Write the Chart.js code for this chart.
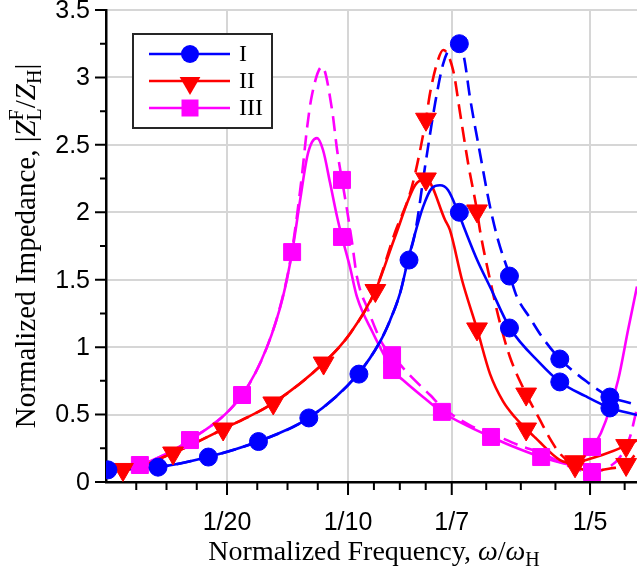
<!DOCTYPE html>
<html lang="en">
<head>
<meta charset="UTF-8" />
<title>Normalized Impedance vs Frequency</title>
<script src="https://cdn.jsdelivr.net/npm/chart.js"></script>
<style>
  html, body { margin: 0; padding: 0; background: #fff; }
  #wrap { width: 637px; height: 574px; }
</style>
</head>
<body>
<div id="wrap"><canvas id="myChart" width="637" height="574"></canvas></div>
<script>
// axis ticks
const xMajor = [0.05, 0.1, 1 / 7, 0.2];
const xMajorLabels = ['1/20', '1/10', '1/7', '1/5'];
const xMinor = [0.0125, 0.025, 0.0375, 0.0625, 0.075, 0.0875, 0.1107, 0.1214, 0.1321, 0.1571, 0.1714, 0.1857, 0.2143];
const yMajor = [0, 0.5, 1, 1.5, 2, 2.5, 3, 3.5];
const yMajorLabels = ['0', '0.5', '1', '1.5', '2', '2.5', '3', '3.5'];
const yMinor = [0.25, 0.75, 1.25, 1.75, 2.25, 2.75, 3.25];
const seriesNames = ['I', 'II', 'III'];

// series I (blue)
const freqI = [0.0008, 0.0215, 0.0421, 0.0628, 0.0838, 0.1041, 0.1132, 0.1174, 0.1215, 0.1248, 0.1269, 0.1310, 0.1347, 0.1380, 0.1413, 0.1455, 0.1483, 0.1535, 0.1587, 0.1669, 0.1793, 0.1876, 0.1979, 0.2083, 0.2194];
const solidI = [0.09, 0.11, 0.185, 0.30, 0.475, 0.80, 1.04, 1.20, 1.40, 1.646, 1.79, 2.04, 2.18, 2.20, 2.165, 2.00, 1.87, 1.64, 1.446, 1.142, 0.882, 0.742, 0.638, 0.549, 0.497];
const freqIdash = [0.0008, 0.0215, 0.0421, 0.0628, 0.0838, 0.1041, 0.1132, 0.1174, 0.1215, 0.1248, 0.1277, 0.1318, 0.1360, 0.1393, 0.1421, 0.1455, 0.1479, 0.1504, 0.1545, 0.1587, 0.1620, 0.1669, 0.1698, 0.1752, 0.1802, 0.1876, 0.1988, 0.2083, 0.2165, 0.2194];
const dashI = [0.09, 0.11, 0.185, 0.30, 0.475, 0.80, 1.04, 1.20, 1.40, 1.646, 1.846, 2.336, 2.81, 3.10, 3.22, 3.25, 3.15, 2.85, 2.44, 2.039, 1.794, 1.527, 1.372, 1.216, 1.075, 0.912, 0.742, 0.630, 0.586, 0.571];
const markFreqI = [0.0008, 0.0215, 0.0423, 0.0630, 0.0838, 0.1045, 0.1252, 0.1460, 0.1460, 0.1667, 0.1667, 0.1875, 0.1875, 0.2082, 0.2082];
const markI = [0.09, 0.11, 0.185, 0.30, 0.475, 0.80, 1.646, 2.00, 3.25, 1.142, 1.527, 0.742, 0.912, 0.549, 0.63];

// series II (red)
const freqII = [0.0004, 0.0070, 0.0277, 0.0484, 0.0691, 0.0899, 0.1008, 0.1113, 0.1194, 0.1277, 0.1322, 0.1401, 0.1421, 0.1471, 0.1533, 0.1587, 0.1640, 0.1690, 0.1736, 0.1773, 0.1876, 0.1938, 0.1959, 0.2050, 0.2149, 0.2194];
const solidII = [0.10, 0.093, 0.215, 0.393, 0.586, 0.882, 1.10, 1.42, 1.817, 2.2, 2.247, 1.943, 1.869, 1.498, 1.135, 0.80, 0.60, 0.48, 0.393, 0.33, 0.163, 0.14, 0.15, 0.20, 0.27, 0.31];
const freqIIdash = [0.0004, 0.0070, 0.0277, 0.0484, 0.0691, 0.0899, 0.1008, 0.1113, 0.1194, 0.1264, 0.1322, 0.1339, 0.1368, 0.1393, 0.1434, 0.1463, 0.1496, 0.1533, 0.1545, 0.1587, 0.1628, 0.1669, 0.1736, 0.1793, 0.1835, 0.1876, 0.1938, 0.2000, 0.2083, 0.2149, 0.2194];
const dashII = [0.10, 0.093, 0.215, 0.393, 0.586, 0.882, 1.10, 1.42, 1.85, 2.19, 2.69, 2.884, 3.107, 3.203, 3.055, 2.736, 2.365, 2.01, 1.869, 1.498, 1.179, 0.927, 0.652, 0.46, 0.32, 0.21, 0.12, 0.08, 0.10, 0.13, 0.22];
const markFreqII = [0.0070, 0.0277, 0.0484, 0.0691, 0.0899, 0.1113, 0.1322, 0.1322, 0.1533, 0.1533, 0.1736, 0.1736, 0.1938, 0.1938, 0.2149, 0.2149];
const markII = [0.093, 0.215, 0.393, 0.586, 0.882, 1.42, 2.247, 2.69, 1.135, 2.01, 0.393, 0.652, 0.15, 0.12, 0.27, 0.13];

// series III (magenta)
const freqIII = [0.0004, 0.0140, 0.0347, 0.0562, 0.0665, 0.0731, 0.0769, 0.0802, 0.0831, 0.0851, 0.0872, 0.0897, 0.0926, 0.0955, 0.0975, 0.1008, 0.1037, 0.1103, 0.1153, 0.1182, 0.1227, 0.1310, 0.1388, 0.1500, 0.1591, 0.1700, 0.1798, 0.1888, 0.1930, 0.2008, 0.2045, 0.2116, 0.2157, 0.2194];
const solidIII = [0.08, 0.126, 0.311, 0.645, 1.00, 1.372, 1.705, 2.09, 2.41, 2.52, 2.55, 2.46, 2.217, 1.965, 1.817, 1.594, 1.372, 1.105, 0.927, 0.83, 0.756, 0.63, 0.519, 0.41, 0.334, 0.25, 0.185, 0.14, 0.126, 0.26, 0.363, 0.756, 1.127, 1.45];
const freqIIIdash = [0.0004, 0.0140, 0.0347, 0.0562, 0.0665, 0.0731, 0.0769, 0.0810, 0.0831, 0.0851, 0.0893, 0.0934, 0.0955, 0.0975, 0.0996, 0.1017, 0.1037, 0.1083, 0.1145, 0.1182, 0.1256, 0.1339, 0.1388, 0.1504, 0.1591, 0.1710, 0.1798, 0.1930, 0.2008, 0.2070, 0.2124, 0.2165, 0.2194];
const dashIII = [0.08, 0.126, 0.311, 0.645, 1.00, 1.38, 1.72, 2.28, 2.63, 2.87, 3.08, 2.76, 2.46, 2.24, 2.017, 1.772, 1.52, 1.275, 1.016, 0.94, 0.79, 0.645, 0.556, 0.42, 0.36, 0.27, 0.215, 0.104, 0.074, 0.104, 0.185, 0.334, 0.55];
const markFreqIII = [0.0140, 0.0347, 0.0562, 0.0769, 0.0975, 0.0975, 0.1182, 0.1182, 0.1388, 0.1591, 0.1798, 0.2008, 0.2008];
const markIII = [0.126, 0.311, 0.645, 1.705, 1.817, 2.24, 0.83, 0.94, 0.52, 0.334, 0.185, 0.26, 0.074];

const BLUE = '#0000ff', RED = '#ff0000', MAG = '#ff00ff';

const pts = (xs, ys) => xs.map((x, i) => ({ x: x, y: ys[i] }));

function curve(xs, ys, color, dashed) {
  return {
    data: pts(xs, ys), showLine: true, borderColor: color, borderWidth: 2.6,
    borderDash: dashed ? [15, 8] : [], pointRadius: 0, pointHoverRadius: 0,
    fill: false, cubicInterpolationMode: 'monotone', order: 2
  };
}
function marks(xs, ys, color, style, r, rot) {
  return {
    data: pts(xs, ys), showLine: false, pointStyle: style, pointRadius: r,
    pointRotation: rot || 0, backgroundColor: color, borderColor: color,
    borderWidth: 1, order: 1
  };
}

// rich text (sub/superscripts) for the axis titles
function drawRich(ctx, parts, cx, cy, size) {
  const fam = '"Liberation Serif", "Times New Roman", serif';
  const font = p => (p.it ? 'italic ' : '') + (p.s ? Math.round(size * 0.7) : size) + 'px ' + fam;
  let total = 0;
  parts.forEach(p => { ctx.font = font(p); p.w = ctx.measureText(p.t).width; if (!p.keep) total += p.w; });
  let x = cx - total / 2;
  ctx.textAlign = 'left';
  ctx.textBaseline = 'alphabetic';
  parts.forEach(p => {
    ctx.font = font(p);
    ctx.fillText(p.t, x, cy + (p.dy || 0) * size);
    if (!p.keep) x += p.w;
  });
}

function marker(ctx, style, x, y, color) {
  ctx.fillStyle = color;
  ctx.beginPath();
  if (style === 'circle') {
    ctx.arc(x, y, 9, 0, Math.PI * 2);
  } else if (style === 'tri') {
    const r = 12;
    ctx.moveTo(x, y + r);
    ctx.lineTo(x - r * 0.866, y - r / 2);
    ctx.lineTo(x + r * 0.866, y - r / 2);
    ctx.closePath();
  } else {
    ctx.rect(x - 8.5, y - 8.5, 17, 17);
  }
  ctx.fill();
}

const decor = {
  id: 'decor',
  afterDraw(chart) {
    const ctx = chart.ctx;
    const xs = chart.scales.x, ys = chart.scales.y;
    const area = chart.chartArea;
    ctx.save();
    ctx.strokeStyle = '#000';
    ctx.lineWidth = 2;
    // tick marks
    ctx.beginPath();
    xMajor.forEach(v => { const px = xs.getPixelForValue(v); ctx.moveTo(px, area.bottom); ctx.lineTo(px, area.bottom + 13); });
    xMinor.forEach(v => { const px = xs.getPixelForValue(v); ctx.moveTo(px, area.bottom); ctx.lineTo(px, area.bottom + 8); });
    yMajor.forEach(v => { const py = ys.getPixelForValue(v); ctx.moveTo(area.left, py); ctx.lineTo(area.left - 11, py); });
    yMinor.forEach(v => { const py = ys.getPixelForValue(v); ctx.moveTo(area.left, py); ctx.lineTo(area.left - 6, py); });
    ctx.stroke();

    // tick labels
    ctx.fillStyle = '#000';
    ctx.font = '25px "Liberation Sans", Arial, sans-serif';
    ctx.textAlign = 'right';
    ctx.textBaseline = 'middle';
    yMajor.forEach((v, i) => ctx.fillText(yMajorLabels[i], area.left - 16, ys.getPixelForValue(v) + 1));
    ctx.textAlign = 'center';
    xMajor.forEach((v, i) => ctx.fillText(xMajorLabels[i], xs.getPixelForValue(v), 523));

    // axis titles
    drawRich(ctx, [
      { t: 'Normalized Frequency, ' },
      { t: '\u03c9', it: true },
      { t: '/' },
      { t: '\u03c9', it: true },
      { t: 'H', s: true, dy: 0.22 }
    ], 374, 560, 28);

    ctx.save();
    ctx.translate(35, 246);
    ctx.rotate(-Math.PI / 2);
    drawRich(ctx, [
      { t: 'Normalized Impedance, |' },
      { t: 'Z', it: true },
      { t: 'F', s: true, dy: -0.42, keep: true },
      { t: 'L', s: true, dy: 0.22 },
      { t: '/' },
      { t: 'Z', it: true },
      { t: 'H', s: true, dy: 0.22 },
      { t: '|' }
    ], 0, 0, 29);
    ctx.restore();

    // legend
    const lx = 133, ly = 34, lw = 139, lh = 94;
    ctx.fillStyle = '#fff';
    ctx.fillRect(lx, ly, lw, lh);
    ctx.strokeStyle = '#262626';
    ctx.lineWidth = 2;
    ctx.strokeRect(lx, ly, lw, lh);
    const rows = [
      { c: BLUE, s: 'circle', y: 54 },
      { c: RED, s: 'tri', y: 81 },
      { c: MAG, s: 'square', y: 108 }
    ];
    rows.forEach((r, i) => {
      ctx.strokeStyle = r.c;
      ctx.lineWidth = 2.6;
      ctx.beginPath();
      ctx.moveTo(149, r.y);
      ctx.lineTo(230, r.y);
      ctx.stroke();
      marker(ctx, r.s, 190, r.s === 'tri' ? r.y + 2 : r.y, r.c);
      ctx.fillStyle = '#000';
      ctx.font = '24px "Liberation Serif", "Times New Roman", serif';
      ctx.textAlign = 'left';
      ctx.textBaseline = 'middle';
      ctx.fillText(seriesNames[i], 239, r.y + 1);
    });
    ctx.restore();
  }
};

const ctx = document.getElementById('myChart').getContext('2d');
new Chart(ctx, {
  type: 'scatter',
  data: {
    datasets: [
      curve(freqI, solidI, BLUE, false),
      curve(freqIdash, dashI, BLUE, true),
      curve(freqII, solidII, RED, false),
      curve(freqIIdash, dashII, RED, true),
      curve(freqIII, solidIII, MAG, false),
      curve(freqIIIdash, dashIII, MAG, true),
      marks(markFreqI, markI, BLUE, 'circle', 9),
      marks(markFreqII, markII, RED, 'triangle', 12, 180),
      marks(markFreqIII, markIII, MAG, 'rect', 12)
    ]
  },
  options: {
    responsive: false,
    animation: false,
    events: [],
    layout: { autoPadding: false, padding: { top: 10, right: 0, left: 0, bottom: 0 } },
    plugins: { legend: { display: false }, tooltip: { enabled: false } },
    scales: {
      x: {
        type: 'linear', min: 0, max: 0.2194,
        grid: { color: '#d6d6d6', lineWidth: 2, drawTicks: false },
        border: { color: '#000', width: 2.5 },
        ticks: { display: false },
        afterBuildTicks: s => { s.ticks = xMajor.map(v => ({ value: v })); },
        afterFit: s => { s.height = 92; }
      },
      y: {
        type: 'linear', min: 0, max: 3.5,
        grid: { color: '#d6d6d6', lineWidth: 2, drawTicks: false },
        border: { color: '#000', width: 2.5 },
        ticks: { display: false },
        afterBuildTicks: s => { s.ticks = yMajor.map(v => ({ value: v })); },
        afterFit: s => { s.width = 106; }
      }
    }
  },
  plugins: [decor]
});
</script>
</body>
</html>
